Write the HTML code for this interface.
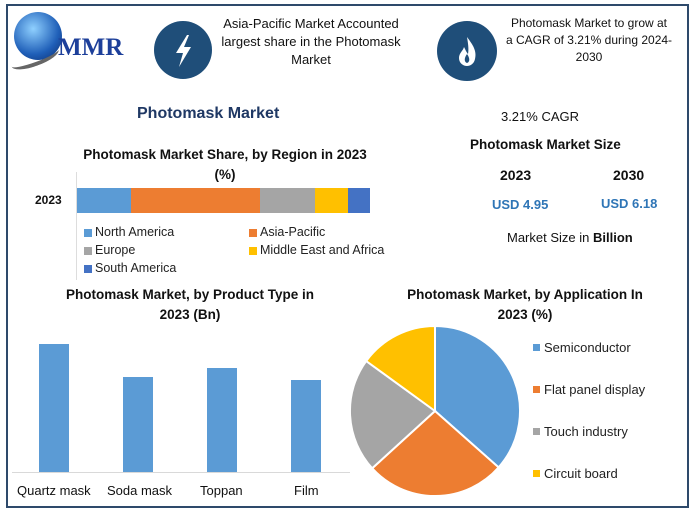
<!DOCTYPE html>
<html><head><meta charset="utf-8"><style>
body{margin:0;background:#fff}
.w{position:relative;width:693px;height:511px;overflow:hidden;font-family:"Liberation Sans",sans-serif}
.t{position:absolute;white-space:nowrap}
.c{text-align:center}
.b{font-weight:bold}
</style></head><body><div class="w">
<div style="position:absolute;left:6px;top:4px;width:679px;height:500px;border:2px solid #2e4a6b"></div>
<!-- logo -->
<div style="position:absolute;left:14px;top:12px;width:48px;height:48px;border-radius:50%;background:radial-gradient(circle at 40% 35%,#8fd0ff,#1f5fb8 60%,#0b2a6a)"></div>
<div style="position:absolute;left:10px;top:50px;width:50px;height:12px;border-radius:50%;border-bottom:4px solid #666;transform:rotate(-20deg)"></div>
<div class="t b" style="left:58px;top:34px;font-family:'Liberation Serif',serif;font-size:25px;color:#1d3f9a">MMR</div>
<!-- icons -->
<div style="position:absolute;left:154px;top:21px;width:58px;height:58px;border-radius:50%;background:#1f4e79"></div>
<svg style="position:absolute;left:154px;top:21px" width="58" height="58"><polygon points="33,14 22,32 29,32 25,46 37,26 30,26 35,14" fill="#fff"/></svg>
<div style="position:absolute;left:437px;top:21px;width:60px;height:60px;border-radius:50%;background:#1f4e79"></div>
<svg style="position:absolute;left:437px;top:21px" width="60" height="60"><path d="M30 16 C36 24 40 30 38 38 C37 43 33 45 30 45 C26 45 22 42 22 37 C22 32 26 30 27 26 C29 30 30 32 31 33 C32 28 31 22 30 16Z" fill="#fff"/><path d="M30 33 C33 37 33 41 30 42 C27 41 27 37 30 33Z" fill="#1f4e79"/></svg>
<div class="t c" style="left:200px;top:15px;width:222px;font-size:13px;line-height:18px;color:#111">Asia-Pacific Market Accounted<br>largest share in the Photomask<br>Market</div>
<div class="t c" style="left:494px;top:15px;width:190px;font-size:12px;line-height:17px;color:#111">Photomask Market to grow at<br>a CAGR of 3.21% during 2024-<br>2030</div>
<div class="t b" style="left:137px;top:105px;font-size:16px;color:#1f3864">Photomask Market</div>
<div class="t b c" style="left:60px;top:145px;width:330px;font-size:13.5px;line-height:20px;color:#111">Photomask Market Share, by Region in 2023<br>(%)</div>
<div style="position:absolute;left:76px;top:172px;width:1px;height:108px;background:#ddd"></div>
<div class="t b" style="left:35px;top:193px;font-size:12px;color:#111">2023</div>
<div style="position:absolute;top:188px;height:25px;left:77px;width:54px;background:#5b9bd5"></div>
<div style="position:absolute;top:188px;height:25px;left:131px;width:129px;background:#ed7d31"></div>
<div style="position:absolute;top:188px;height:25px;left:260px;width:55px;background:#a5a5a5"></div>
<div style="position:absolute;top:188px;height:25px;left:315px;width:33px;background:#ffc000"></div>
<div style="position:absolute;top:188px;height:25px;left:348px;width:22px;background:#4472c4"></div>
<div style="font-size:12.5px;color:#222">
<div style="position:absolute;left:84px;top:229px;width:8px;height:8px;background:#5b9bd5"></div><div class="t" style="left:95px;top:225px">North America</div>
<div style="position:absolute;left:249px;top:229px;width:8px;height:8px;background:#ed7d31"></div><div class="t" style="left:260px;top:225px">Asia-Pacific</div>
<div style="position:absolute;left:84px;top:247px;width:8px;height:8px;background:#a5a5a5"></div><div class="t" style="left:95px;top:243px">Europe</div>
<div style="position:absolute;left:249px;top:247px;width:8px;height:8px;background:#ffc000"></div><div class="t" style="left:260px;top:243px">Middle East and Africa</div>
<div style="position:absolute;left:84px;top:265px;width:8px;height:8px;background:#4472c4"></div><div class="t" style="left:95px;top:261px">South America</div>
</div>
<!-- right stats -->
<div class="t c" style="left:470px;top:109px;width:140px;font-size:13px;color:#111">3.21% CAGR</div>
<div class="t b c" style="left:470px;top:137px;width:140px;font-size:13.5px;color:#111">Photomask Market Size</div>
<div class="t b" style="left:500px;top:167px;font-size:14px;color:#111">2023</div>
<div class="t b" style="left:613px;top:167px;font-size:14px;color:#111">2030</div>
<div class="t b" style="left:492px;top:197px;font-size:13px;color:#2e75b6">USD 4.95</div>
<div class="t b" style="left:601px;top:196px;font-size:13px;color:#2e75b6">USD 6.18</div>
<div class="t" style="left:507px;top:230px;font-size:13px;color:#111">Market Size in <b>Billion</b></div>
<!-- bar chart -->
<div class="t b c" style="left:40px;top:285px;width:300px;font-size:13.5px;line-height:20px;color:#111">Photomask Market, by Product Type in<br>2023 (Bn)</div>
<div style="position:absolute;left:12px;top:472px;width:338px;height:1px;background:#d9d9d9"></div>
<div style="position:absolute;left:39px;top:344px;width:30px;height:128px;background:#5b9bd5"></div>
<div style="position:absolute;left:123px;top:377px;width:30px;height:95px;background:#5b9bd5"></div>
<div style="position:absolute;left:207px;top:368px;width:30px;height:104px;background:#5b9bd5"></div>
<div style="position:absolute;left:291px;top:380px;width:30px;height:92px;background:#5b9bd5"></div>
<div style="font-size:13px;color:#111">
<div class="t" style="left:17px;top:483px">Quartz mask</div>
<div class="t" style="left:107px;top:483px">Soda mask</div>
<div class="t" style="left:200px;top:483px">Toppan</div>
<div class="t" style="left:294px;top:483px">Film</div>
</div>
<!-- pie -->
<div class="t b c" style="left:380px;top:285px;width:290px;font-size:13.5px;line-height:20px;color:#111">Photomask Market, by Application In<br>2023 (%)</div>
<svg style="position:absolute;left:0;top:0" width="693" height="511">
<g stroke="#fff" stroke-width="2">
<path d="M435 411 L435 326 A85 85 0 0 1 498.6 467.4Z" fill="#5b9bd5"/>
<path d="M435 411 L498.6 467.4 A85 85 0 0 1 372.2 468.3Z" fill="#ed7d31"/>
<path d="M435 411 L372.2 468.3 A85 85 0 0 1 366.2 361Z" fill="#a5a5a5"/>
<path d="M435 411 L366.2 361 A85 85 0 0 1 435 326Z" fill="#ffc000"/>
</g></svg>
<div style="font-size:13px;color:#222">
<div style="position:absolute;left:533px;top:344px;width:7px;height:7px;background:#5b9bd5"></div><div class="t" style="left:544px;top:340px">Semiconductor</div>
<div style="position:absolute;left:533px;top:386px;width:7px;height:7px;background:#ed7d31"></div><div class="t" style="left:544px;top:382px">Flat panel display</div>
<div style="position:absolute;left:533px;top:428px;width:7px;height:7px;background:#a5a5a5"></div><div class="t" style="left:544px;top:424px">Touch industry</div>
<div style="position:absolute;left:533px;top:470px;width:7px;height:7px;background:#ffc000"></div><div class="t" style="left:544px;top:466px">Circuit board</div>
</div>
</div></body></html>
